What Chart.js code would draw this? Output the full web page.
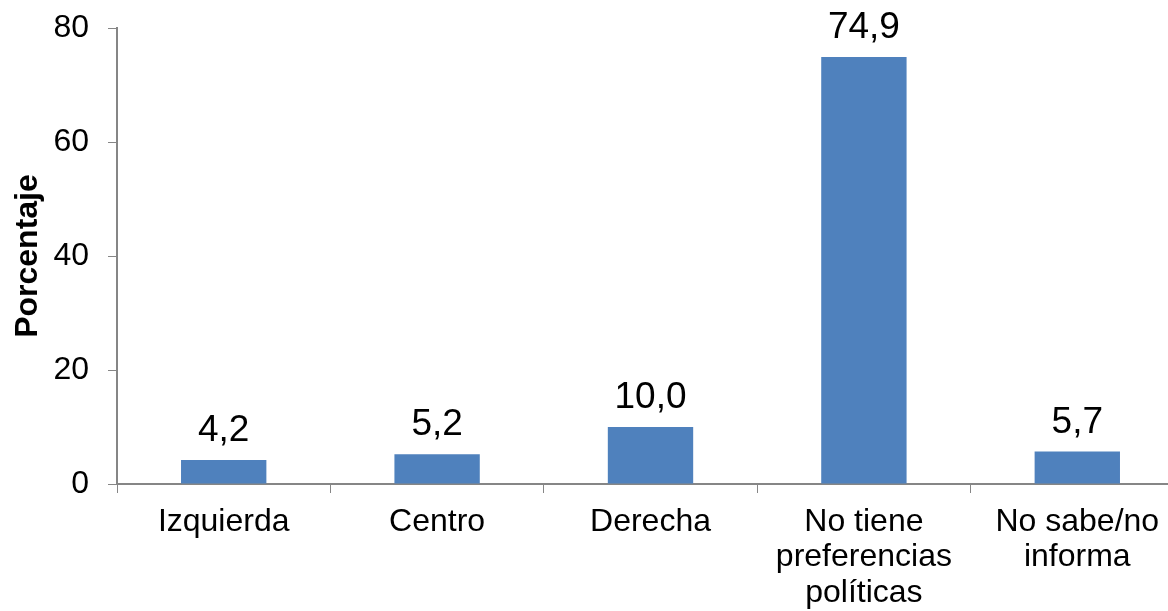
<!DOCTYPE html>
<html>
<head>
<meta charset="utf-8">
<script src="https://cdn.jsdelivr.net/npm/chart.js@4"></script>
<style>
  html, body { margin: 0; padding: 0; background: #fff; overflow: hidden; }
  #wrap { width: 1184px; height: 611px; }
</style>
</head>
<body>
<div id="wrap"><canvas id="c"></canvas></div>
<script>
const categories = ['Izquierda', 'Centro', 'Derecha', ['No tiene', 'preferencias', 'políticas'], ['No sabe/no', 'informa']];
const values = [4.2, 5.2, 10.0, 74.9, 5.7];
const yTicks = [0, 20, 40, 60, 80];
const yTitle = 'Porcentaje';

const AXIS = '#868686';
const FONT = "'Liberation Sans', Arial, sans-serif";

// value labels above bars, decimal comma
const valueLabels = {
  id: 'valueLabels',
  afterDatasetsDraw(chart) {
    const ctx = chart.ctx;
    const meta = chart.getDatasetMeta(0);
    ctx.save();
    ctx.font = `37px ${FONT}`;
    ctx.fillStyle = '#000';
    ctx.textAlign = 'center';
    ctx.textBaseline = 'alphabetic';
    meta.data.forEach((bar, i) => {
      ctx.fillText(values[i].toFixed(1).replace('.', ','), bar.x, bar.y - 19);
    });
    ctx.restore();
  }
};

new Chart(document.getElementById('c'), {
  type: 'bar',
  data: {
    labels: categories,
    datasets: [{
      data: values,
      backgroundColor: '#4F81BD',
      borderWidth: 0,
      barPercentage: 0.4,
      categoryPercentage: 1.0,
    }]
  },
  options: {
    responsive: true,
    maintainAspectRatio: false,
    animation: false,
    layout: { padding: { top: 28, right: 0, left: 0, bottom: 0 } },
    plugins: { legend: { display: false }, tooltip: { enabled: false } },
    scales: {
      x: {
        grid: { display: true, drawOnChartArea: false, color: AXIS, tickLength: 9, offset: true },
        border: { color: AXIS, width: 2 },
        ticks: { color: '#000', font: { family: FONT, size: 32, lineHeight: 1.11 }, padding: 11, maxRotation: 0, autoSkip: false },
        afterFit: s => { s.height = 127; },
      },
      y: {
        min: 0, max: 80,
        afterBuildTicks: s => { s.ticks = yTicks.map(v => ({ value: v })); },
        grid: { display: true, drawOnChartArea: false, color: AXIS, tickLength: 9 },
        border: { color: AXIS, width: 2 },
        ticks: { color: '#000', font: { family: FONT, size: 32 }, padding: 19 },
        title: { display: true, text: yTitle, color: '#000', font: { family: FONT, size: 32, weight: 'bold' }, padding: { top: 9, bottom: 0 } },
        afterFit: s => { s.width = 117; s.paddingTop = 0; s.paddingBottom = 0; },
      }
    }
  },
  plugins: [valueLabels]
});
</script>
</body>
</html>
